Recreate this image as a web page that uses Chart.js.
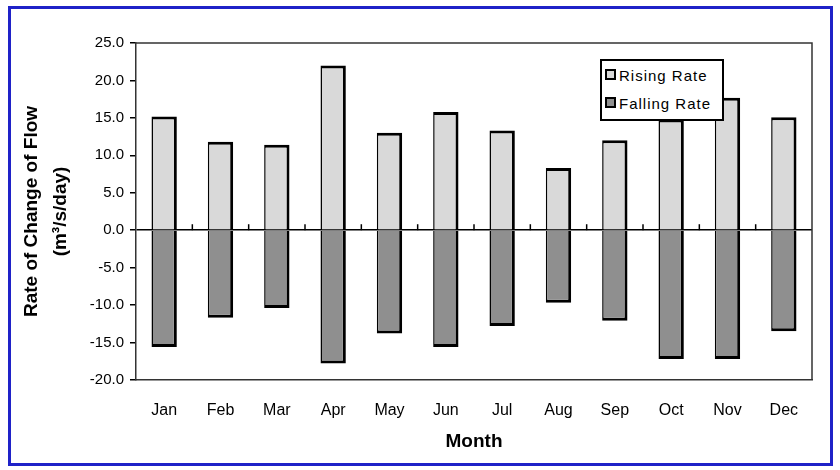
<!DOCTYPE html>
<html>
<head>
<meta charset="utf-8">
<script src="https://cdn.jsdelivr.net/npm/chart.js@4.4.1/dist/chart.umd.min.js"></script>
<style>
  body { margin: 0; background: #fff; font-family: "Liberation Sans", Arial, sans-serif; }
  #frame { position: absolute; left: 8px; top: 6px; width: 819px; height: 454px; border: 3px solid #1f22c8; background: #fff; }
  #chart { position: absolute; left: 0; top: 0; }
  #legend { position: absolute; left: 589px; top: 50px; width: 120px; height: 58px; border: 2px solid #000; background: #fff; font-size: 15px; letter-spacing: 1px; }
  #legend div { position: absolute; left: 3px; height: 18px; line-height: 18px; white-space: nowrap; }
  #legend span { display: inline-block; width: 7px; height: 7px; border: 2px solid #000; margin-right: 3px; vertical-align: 1px; }
</style>
</head>
<body>
<div id="frame">
  <canvas id="chart" width="819" height="454"></canvas>
  <div id="legend">
    <div style="top:6px"><span style="background:#d9d9d9"></span>Rising Rate</div>
    <div style="top:34px"><span style="background:#8f8f8f"></span>Falling Rate</div>
  </div>
</div>
<script>
const months = ["Jan", "Feb", "Mar", "Apr", "May", "Jun", "Jul", "Aug", "Sep", "Oct", "Nov", "Dec"];
const risingRate = [15.2, 11.8, 11.4, 22.0, 13.0, 15.8, 13.3, 8.3, 12.0, 14.8, 17.7, 15.1];
const fallingRate = [-15.6, -11.7, -10.4, -17.8, -13.8, -15.6, -12.8, -9.7, -12.1, -17.2, -17.2, -13.5];
const yTicks = [25, 20, 15, 10, 5, 0, -5, -10, -15, -20];

// frame around the plot and small ticks on the zero line between months
const plotExtras = {
  id: "plotExtras",
  afterDraw(chart) {
    const { ctx, chartArea, scales } = chart;
    ctx.save();
    ctx.strokeStyle = "#333";
    ctx.lineWidth = 1.5;
    ctx.beginPath();
    ctx.moveTo(chartArea.left, chartArea.top);
    ctx.lineTo(chartArea.right, chartArea.top);
    ctx.lineTo(chartArea.right, chartArea.bottom);
    ctx.stroke();
    const y0 = scales.y.getPixelForValue(0);
    ctx.strokeStyle = "#000";
    ctx.lineWidth = 1.5;
    for (let i = 1; i < months.length; i++) {
      const x = (scales.x.getPixelForValue(i - 1) + scales.x.getPixelForValue(i)) / 2;
      ctx.beginPath();
      ctx.moveTo(x, y0);
      ctx.lineTo(x, y0 - 6);
      ctx.stroke();
    }
    ctx.restore();
  }
};

new Chart(document.getElementById("chart"), {
  type: "bar",
  data: {
    labels: months,
    datasets: [
      {
        label: "Rising Rate",
        data: risingRate,
        backgroundColor: "#d9d9d9",
        borderColor: "#000",
        borderWidth: { top: 3, right: 3, bottom: 0, left: 1.5 },
        borderSkipped: false
      },
      {
        label: "Falling Rate",
        data: fallingRate,
        backgroundColor: "#8f8f8f",
        borderColor: "#000",
        borderWidth: { top: 0, right: 3, bottom: 3, left: 1.5 },
        borderSkipped: false
      }
    ]
  },
  options: {
    responsive: false,
    animation: false,
    layout: { padding: { top: 34, right: 18, bottom: 6, left: 6 } },
    plugins: { legend: { display: false }, tooltip: { enabled: false } },
    datasets: { bar: { categoryPercentage: 1, barPercentage: 0.45 } },
    scales: {
      x: {
        stacked: true,
        grid: { display: false, drawTicks: false },
        border: { color: "#333", width: 1.5 },
        ticks: { color: "#000", padding: 21, font: { family: "Liberation Sans", size: 16 } },
        title: { display: true, text: "Month", color: "#000", padding: { top: 6 }, font: { family: "Liberation Sans", size: 19, weight: "bold" } },
        afterFit: (s) => { s.height = 77; }
      },
      y: {
        stacked: true,
        min: -20,
        max: 25,
        afterBuildTicks: (s) => { s.ticks = yTicks.map((v) => ({ value: v })); },
        grid: {
          color: (c) => (c.tick && c.tick.value === 0 ? "#000" : "rgba(0,0,0,0)"),
          lineWidth: 1.5,
          tickColor: "#000",
          tickLength: 6
        },
        border: { color: "#333", width: 1.5 },
        ticks: {
          color: "#000",
          padding: 6,
          font: { family: "Liberation Sans", size: 15 },
          callback: (v) => Number(v).toFixed(1)
        },
        title: {
          display: true,
          text: ["Rate of Change of Flow", "(m\u00b3/s/day)"],
          color: "#000",
          padding: { top: 0, bottom: 6 },
          font: { family: "Liberation Sans", size: 19, weight: "bold", lineHeight: 1.55 }
        },
        afterFit: (s) => { s.width = 119; }
      }
    }
  },
  plugins: [plotExtras]
});
</script>
</body>
</html>
